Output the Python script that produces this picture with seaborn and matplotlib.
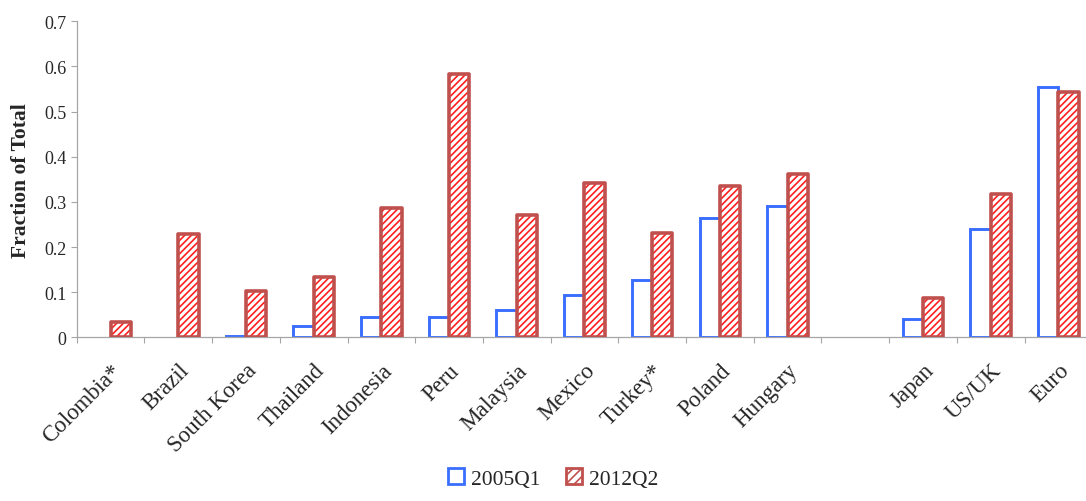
import numpy as np
import pandas as pd
import matplotlib
matplotlib.use("Agg")
import matplotlib.pyplot as plt
from matplotlib.patches import Patch, Rectangle
import seaborn as sns

# ---- data ----
categories = ["Colombia*", "Brazil", "South Korea", "Thailand", "Indonesia", "Peru",
              "Malaysia", "Mexico", "Turkey*", "Poland", "Hungary", " ",
              "Japan", "US/UK", "Euro"]
series = ["2005Q1", "2012Q2"]
v2005 = [np.nan, np.nan, 0.003, 0.024, 0.044, 0.044, 0.061, 0.094, 0.126, 0.264, 0.290,
         np.nan, 0.040, 0.241, 0.555]
v2012 = [0.035, 0.229, 0.102, 0.134, 0.286, 0.583, 0.272, 0.341, 0.230, 0.335, 0.362,
         np.nan, 0.087, 0.318, 0.543]
yticks = [0, 0.1, 0.2, 0.3, 0.4, 0.5, 0.6, 0.7]
ytick_labels = ["0", "0.1", "0.2", "0.3", "0.4", "0.5", "0.6", "0.7"]

df = pd.DataFrame({
    "country": categories * 2,
    "period": [series[0]] * len(categories) + [series[1]] * len(categories),
    "value": v2005 + v2012,
})

BLUE = "#3A6EFF"
RED_EDGE = "#C0504D"
RED_HATCH = "#FF1F1F"

sns.set_theme(style="white")
plt.rcParams["font.family"] = ["Liberation Serif", "DejaVu Serif"]
plt.rcParams["hatch.linewidth"] = 1.2

fig = plt.figure(figsize=(10.86, 5.02), dpi=100)
ax = fig.add_axes([76.7 / 1086, 1 - 338.3 / 502, 1015.5 / 1086, 316.0 / 502])

sns.barplot(data=df, x="country", y="value", hue="period", order=categories,
            hue_order=series, width=0.6, errorbar=None, ax=ax,
            palette=["white", "white"], legend=False)

blue_bars, red_bars = ax.containers[0], ax.containers[1]
for p in blue_bars:
    p.set_facecolor("white")
    p.set_edgecolor(BLUE)
    p.set_linewidth(2.1)
    p.set_zorder(2)
for p in red_bars:
    p.set_facecolor("white")
    p.set_edgecolor(RED_HATCH)
    p.set_hatch("/////")
    p.set_linewidth(0)
    p.set_zorder(3)
    h = p.get_height()
    if np.isfinite(h):
        ax.add_patch(Rectangle(p.get_xy(), p.get_width(), h, fill=False,
                               edgecolor=RED_EDGE, linewidth=2.6, zorder=4,
                               joinstyle="round"))

ax.set_ylim(0, 0.7)
ax.set_xlim(-0.5, len(categories) - 0.5)
ax.set_yticks(yticks)
ax.set_yticklabels(ytick_labels, fontsize=13)
ax.tick_params(axis="y", left=True, length=4.5, width=0.8, color="#A6A6A6", pad=3)

ax.set_xticks(np.arange(len(categories)))
ax.set_xticklabels(categories, fontsize=16.5, rotation=45, ha="right", va="top",
                   rotation_mode="anchor")
ax.set_xticks(np.arange(-0.5, len(categories), 1), minor=True)
ax.tick_params(axis="x", which="major", length=0, pad=16)
ax.tick_params(axis="x", which="minor", bottom=True, length=4.5, width=0.8,
               color="#A6A6A6", direction="out")

ax.set_xlabel("")
ax.set_ylabel("Fraction of Total", fontsize=15.5, fontweight="bold", labelpad=9)

for s in ["top", "right"]:
    ax.spines[s].set_visible(False)
for s in ["left", "bottom"]:
    ax.spines[s].set_color("#A6A6A6")
    ax.spines[s].set_linewidth(0.9)

handles = [
    Patch(facecolor="white", edgecolor=BLUE, linewidth=2.0, label=series[0]),
    Patch(facecolor="white", edgecolor=RED_EDGE, hatch="////", linewidth=2.0, label=series[1]),
]
fig.legend(handles=handles, loc="lower center", bbox_to_anchor=(553 / 1086, -0.014),
           ncol=2, frameon=False, fontsize=15.5, handlelength=0.75, handleheight=0.75,
           handletextpad=0.3, columnspacing=1.2)

fig.savefig("out.png", dpi=100)
